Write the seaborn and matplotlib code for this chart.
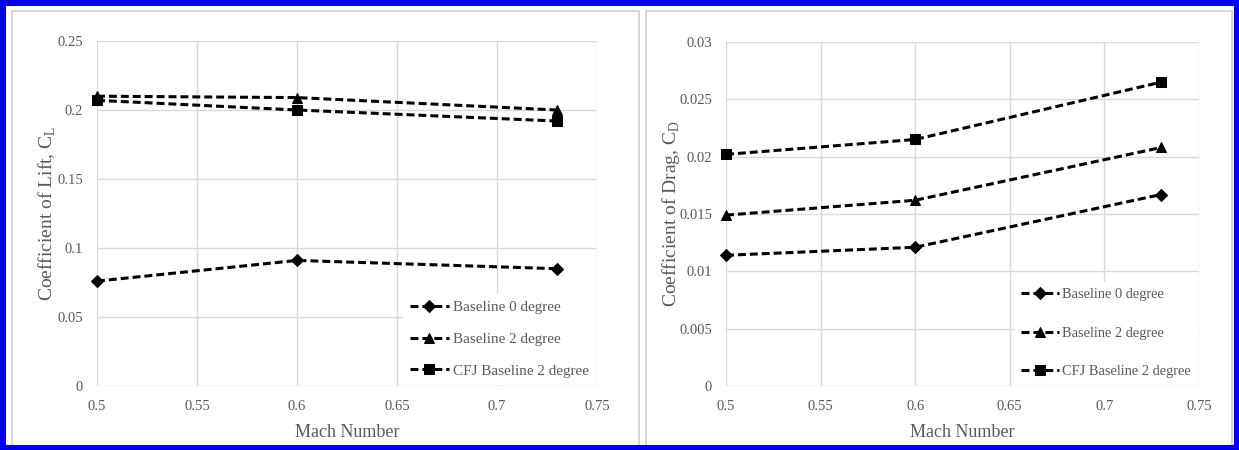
import numpy as np
import pandas as pd
import matplotlib
matplotlib.use("Agg")
import matplotlib.pyplot as plt
from matplotlib.patches import Rectangle
from matplotlib.ticker import FuncFormatter, MultipleLocator
import seaborn as sns

# ---- data ----
mach = [0.5, 0.6, 0.73]
series_names = ["Baseline 0 degree", "Baseline 2 degree", "CFJ Baseline 2 degree"]
cl_base0 = [0.076, 0.091, 0.085]
cl_base2 = [0.210, 0.209, 0.200]
cl_cfj2 = [0.207, 0.200, 0.192]
cd_base0 = [0.0114, 0.0121, 0.0167]
cd_base2 = [0.0149, 0.0162, 0.0208]
cd_cfj2 = [0.0202, 0.0215, 0.0265]

sns.set_theme(style="white")
plt.rcParams["font.family"] = ["Liberation Serif", "DejaVu Serif"]
plt.rcParams["mathtext.fontset"] = "custom"
plt.rcParams["mathtext.rm"] = "Liberation Serif"

GRAY_TXT = "#595959"
GRID = "#d9d9d9"
markers = ["D", "^", "s"]
msizes = [9, 10, 8.5]

fig = plt.figure(figsize=(12.39, 4.5), dpi=100)
W, H = 1239, 450

def fx(px):
    return px / W

def fy(py):
    return 1 - py / H

# background frames
fig.patches.append(Rectangle((0, 0), 1, 1, transform=fig.transFigure, fill=False,
                             edgecolor="#0000ee", linewidth=8, zorder=10))
for (x0, x1) in [(12, 639), (646, 1232)]:
    fig.patches.append(Rectangle((fx(x0), fy(446)), fx(x1 - x0), (446 - 11) / H,
                                 transform=fig.transFigure, fill=False,
                                 edgecolor="#d0d0d0", linewidth=1.2, zorder=1))

ax1 = fig.add_axes([fx(97), fy(386), fx(597 - 97), (386 - 41) / H])
ax2 = fig.add_axes([fx(726), fy(386), fx(1199 - 726), (386 - 42) / H])

def draw(ax, vals_list, ylim, ystep, ylabel, leg_fs, leg_sp, ylx):
    rows = []
    for name, vals in zip(series_names, vals_list):
        for m, v in zip(mach, vals):
            rows.append({"Mach": m, "val": v, "series": name})
    df = pd.DataFrame(rows)
    for i, name in enumerate(series_names):
        sub = df[df["series"] == name]
        sns.lineplot(data=sub, x="Mach", y="val", ax=ax, color="black",
                     marker=markers[i], markersize=msizes[i], linewidth=2.2,
                     markeredgecolor="black", label=name, clip_on=False, zorder=5)
    for l in ax.get_lines():
        l.set_dashes((2.6, 1.3))
    ax.set_xlim(0.5, 0.75)
    ax.set_ylim(*ylim)
    ax.xaxis.set_major_locator(MultipleLocator(0.05))
    ax.yaxis.set_major_locator(MultipleLocator(ystep))
    fmt = FuncFormatter(lambda v, p: f"{v:.6g}" if abs(v) > 1e-12 else "0")
    ax.xaxis.set_major_formatter(fmt)
    ax.yaxis.set_major_formatter(fmt)
    ax.grid(True, color=GRID, linewidth=1.0)
    ax.set_axisbelow(True)
    for s in ax.spines.values():
        s.set_visible(False)
    ax.tick_params(axis="both", length=0, labelsize=10.5, labelcolor=GRAY_TXT, pad=10)
    ax.set_xlabel("Mach Number", fontsize=13, color=GRAY_TXT, labelpad=8)
    ax.set_ylabel(ylabel, fontsize=14, color=GRAY_TXT)
    ax.yaxis.set_label_coords(ylx, 0.5)
    handles, labels = ax.get_legend_handles_labels()
    for h in handles:
        h.set_markersize(6.5)
    leg = ax.legend(handles, labels, loc="lower right", bbox_to_anchor=(1, 0),
                    frameon=True, fontsize=leg_fs,
                    labelspacing=leg_sp, handlelength=2.6, handletextpad=0.25,
                    borderpad=0.4, borderaxespad=0.15, labelcolor=GRAY_TXT)
    leg.get_frame().set_edgecolor("white")
    leg.get_frame().set_facecolor("white")
    leg.get_frame().set_alpha(1)
    leg.get_frame().set_boxstyle("square", pad=0)

draw(ax1, [cl_base0, cl_base2, cl_cfj2], (0, 0.25), 0.05,
     r"Coefficient of Lift, C$_{\mathrm{L}}$", 10.9, 1.2, -0.078)
draw(ax2, [cd_base0, cd_base2, cd_cfj2], (0, 0.03), 0.005,
     r"Coefficient of Drag, C$_{\mathrm{D}}$", 10.4, 1.75, -0.094)

fig.savefig("out.png", dpi=100, facecolor="white")
